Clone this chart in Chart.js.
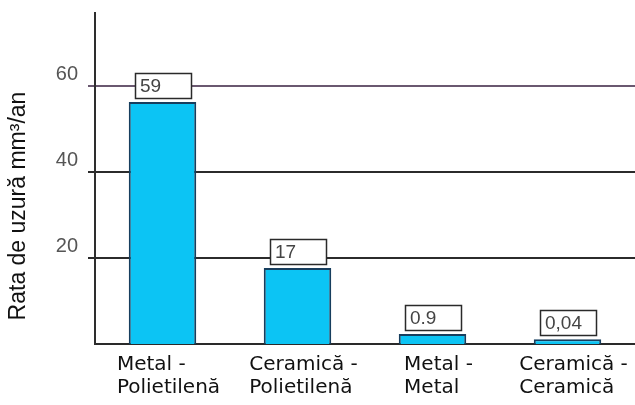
<!DOCTYPE html>
<html lang="ro">
<head>
<meta charset="UTF-8">
<title>Rata de uzură</title>
<style>
    html, body { margin: 0; padding: 0; background: #fff; }
</style>
</head>
<body>
<canvas id="wearChart" width="635" height="405"></canvas>

<script src="https://cdn.jsdelivr.net/npm/chart.js@4.4.1/dist/chart.umd.min.js"></script>
<script>
    // categories (two lines each, left aligned under the bars)
    const pairs = [
        ['Metal -', 'Polietilenă'],
        ['Ceramică -', 'Polietilenă'],
        ['Metal -', 'Metal'],
        ['Ceramică -', 'Ceramică']
    ];
    // numbers written in the boxes
    const rateLabels = ['59', '17', '0.9', '0,04'];
    // heights the bars are actually drawn at in the picture
    const barHeights = [56.3, 17.7, 2.3, 1.1];
    const yTicks = [20, 40, 60];
    const yMax = 77;
    const yTitle = 'Rata de uzură mm³/an';

    // boxes with the value on top of each bar
    const valueBoxes = {
        id: 'valueBoxes',
        afterDatasetsDraw(chart) {
            const ctx = chart.ctx;
            const meta = chart.getDatasetMeta(0);
            ctx.save();
            ctx.font = '19px "Liberation Sans", Arial, sans-serif';
            ctx.textBaseline = 'middle';
            ctx.textAlign = 'left';
            meta.data.forEach(function (bar, i) {
                const w = 56, h = 25;
                const left = Math.round(bar.x - w / 2);
                const top = Math.round(bar.y - 4 - h);
                ctx.fillStyle = '#ffffff';
                ctx.fillRect(left, top, w, h);
                ctx.lineWidth = 1.5;
                ctx.strokeStyle = '#2a2a2a';
                ctx.strokeRect(left + 0.5, top + 0.5, w, h);
                ctx.fillStyle = '#444444';
                ctx.fillText(rateLabels[i], left + 5, top + h / 2 + 1);
            });
            ctx.restore();
        }
    };

    // category labels and the rotated axis title
    const axisTexts = {
        id: 'axisTexts',
        afterDraw(chart) {
            const ctx = chart.ctx;
            const xScale = chart.scales.x;
            const bottom = chart.chartArea.bottom;
            ctx.save();
            ctx.fillStyle = '#111111';
            ctx.font = '20px "DejaVu Sans", sans-serif';
            ctx.textAlign = 'left';
            ctx.textBaseline = 'alphabetic';
            pairs.forEach(function (lines, i) {
                let widest = 0;
                lines.forEach(function (t) { widest = Math.max(widest, ctx.measureText(t).width); });
                const x = xScale.getPixelForValue(i) + 6 - widest / 2;
                ctx.fillText(lines[0], x, bottom + 26);
                ctx.fillText(lines[1], x, bottom + 49);
            });

            ctx.translate(19, 206);
            ctx.rotate(-Math.PI / 2);
            ctx.font = '23px "Liberation Sans", Arial, sans-serif';
            ctx.textAlign = 'center';
            ctx.textBaseline = 'middle';
            ctx.fillText(yTitle, 0, 0);
            ctx.restore();
        }
    };

    function loadWearChart() {
        const ctx = document.getElementById('wearChart').getContext('2d');
        const wearChart = new Chart(ctx, {
            type: 'bar',
            data: {
                labels: pairs,
                datasets: [{
                    data: barHeights,
                    backgroundColor: '#0cc4f4',
                    borderColor: '#173e5e',
                    borderWidth: 2,
                    barPercentage: 0.5,
                    categoryPercentage: 1
                }]
            },
            options: {
                responsive: false,
                animation: false,
                devicePixelRatio: 1,
                layout: { padding: { top: 13, left: 0, right: 0, bottom: 0 } },
                plugins: {
                    legend: { display: false },
                    tooltip: { enabled: false }
                },
                scales: {
                    x: {
                        grid: { display: false },
                        border: { display: true, color: '#2a2a2a', width: 2 },
                        ticks: { display: false },
                        afterFit(scale) { scale.height = 61; scale.paddingLeft = 0; scale.paddingRight = 0; }
                    },
                    y: {
                        min: 0,
                        max: yMax,
                        afterBuildTicks(scale) {
                            scale.ticks = yTicks.map(function (v) { return { value: v }; });
                        },
                        afterFit(scale) { scale.width = 95; scale.paddingTop = 0; scale.paddingBottom = 0; },
                        border: { display: true, color: '#2e2e2e', width: 2 },
                        grid: {
                            color: function (c) { return c.tick && c.tick.value === 60 ? '#6a5870' : '#2b2b2b'; },
                            lineWidth: 2,
                            tickLength: 7
                        },
                        ticks: {
                            color: '#555555',
                            padding: 10,
                            labelOffset: -12,
                            font: { family: '"Liberation Sans", Arial, sans-serif', size: 20 }
                        }
                    }
                }
            },
            plugins: [valueBoxes, axisTexts]
        });
        return wearChart;
    }

    loadWearChart();
</script>
</body>
</html>
